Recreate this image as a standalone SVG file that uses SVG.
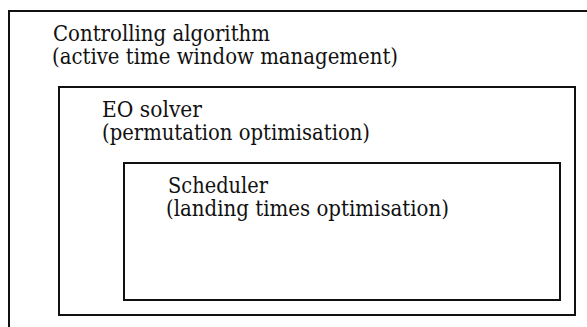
<svg xmlns="http://www.w3.org/2000/svg" width="587" height="327" viewBox="0 0 587 327">
<style>
.box{fill:none;stroke:#111;stroke-width:2}
.t{font-family:"DejaVu Serif",serif;font-size:22px;fill:#111}
</style>
<rect width="587" height="327" fill="#fff"/>
<g id="controlling">
<rect class="box" x="9" y="11" width="620" height="340"/>
<text class="t" x="53" y="41" textLength="217" lengthAdjust="spacingAndGlyphs">Controlling algorithm</text>
<text class="t" x="52" y="64" textLength="346" lengthAdjust="spacingAndGlyphs">(active time window management)</text>
</g>
<g id="eo-solver">
<rect class="box" x="59" y="87" width="516" height="228"/>
<text class="t" x="102" y="117" textLength="100" lengthAdjust="spacingAndGlyphs">EO solver</text>
<text class="t" x="102" y="140" textLength="268" lengthAdjust="spacingAndGlyphs">(permutation optimisation)</text>
</g>
<g id="scheduler">
<rect class="box" x="124" y="163" width="436" height="137"/>
<text class="t" x="168" y="193" textLength="100" lengthAdjust="spacingAndGlyphs">Scheduler</text>
<text class="t" x="166" y="216" textLength="283" lengthAdjust="spacingAndGlyphs">(landing times optimisation)</text>
</g>
<g id="connectors"/>
</svg>
